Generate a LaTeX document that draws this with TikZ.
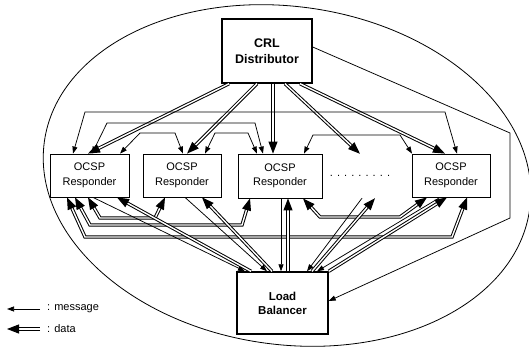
\documentclass[tikz,border=0pt]{standalone}
\usepackage{fontspec}
\setmainfont{Liberation Sans}
\usetikzlibrary{arrows.meta,calc}

\begin{document}
\begin{tikzpicture}[x=1pt,y=-1pt,
  respbox/.style={draw, line width=0.8pt, fill=white, inner sep=0pt, align=center,
    font=\fontsize{11}{14.5}\selectfont},
  mainbox/.style={draw, line width=1.4pt, fill=white, inner sep=0pt, align=center},
  msgtip/.tip={Triangle[length=7pt 0 0,width=5pt 0 0]},
  datatip/.tip={Triangle[length=12pt 0 0,width=9pt 0 0]},
  msg/.style={line width=0.75pt, -msgtip},
  msgboth/.style={line width=0.75pt, msgtip-msgtip},
  data/.style={line width=1pt, double distance=1.4pt, -datatip},
  databoth/.style={line width=1pt, double distance=1.4pt, datatip-datatip},
  legendtext/.style={inner sep=0pt, anchor=base west, font=\fontsize{11}{13}\selectfont}
]
\useasboundingbox (0,0) rectangle (529,347);

% enclosing boundary of the responder cluster
\draw[line width=0.8pt, rotate around={-8:(287,175.5)}]
  (287,175.5) ellipse [x radius=245pt, y radius=169pt];

% boxes
\node[mainbox, minimum width=90pt, minimum height=64pt,
  font=\bfseries\fontsize{12.5}{16.5}\selectfont] (crl) at (267,51) {CRL\\Distributor};
\node[respbox, minimum width=79pt, minimum height=43pt] (r1) at (89.5,175.5) {OCSP\\Responder};
\node[respbox, minimum width=78pt, minimum height=43pt] (r2) at (182,175.5) {OCSP\\Responder};
\node[respbox, minimum width=84pt, minimum height=44pt] (r3) at (280,176) {OCSP\\Responder};
\node[inner sep=0pt, minimum width=56pt, minimum height=44pt,
  font=\fontsize{11}{13}\selectfont] (dots) at (360,176) {. . . . . . . . .};
\node[respbox, minimum width=78pt, minimum height=43pt] (r5) at (451,175.5) {OCSP\\Responder};
\node[mainbox, minimum width=91pt, minimum height=62pt,
  font=\bfseries\fontsize{11.5}{14}\selectfont] (lb) at (282.5,303) {Load\\Balancer};

% data from the CRL distributor
\draw[data] (crl.south -| 229,0) -- (r1.north -| 88,0);
\draw[data] (crl.south -| 257,0) -- (r2.north -| 187,0);
\draw[data] (crl.south -| 273,0) -- (r3.north -| 273,0);
\draw[data] (crl.south -| 285,0) -- (dots.north -| 360,0);
\draw[data] (crl.south -| 300,0) -- (r5.north -| 445,0);

% message from the CRL distributor to the load balancer
\draw[msg] (crl.east |- 0,47) -- (510,133) -- (510,218) -- (lb.east |- 0,301);

% messages between responders (upper side)
\draw[msgboth] (r1.north -| 73,0) -- (85,112) -- (445,112) -- (r5.north -| 457,0);
\draw[msgboth] (r1.north -| 92,0) -- (107,123) -- (255,123) -- (r3.north -| 263,0);
\draw[msgboth] (r1.north -| 120,0) -- (140,133) -- (175,133) -- (r2.north -| 183,0);
\draw[msgboth] (r2.north -| 205,0) -- (215,133) -- (248,133) -- (r3.north -| 257,0);
\draw[msgboth] (r3.north -| 304,0) -- (313,135) -- (400,135) -- (r5.north -| 412,0);

% data between responders (lower side)
\draw[databoth] (r1.south -| 67,0) -- (85,237) -- (452,237) -- (r5.south -| 467,0);
\draw[databoth] (r1.south -| 75,0) -- (90,225) -- (242,225) -- (r3.south -| 250,0);
\draw[databoth] (r1.south -| 88,0) -- (100,218) -- (155,218) -- (r2.south -| 165,0);
\draw[databoth] (r3.south -| 303,0) -- (320,217) -- (400,217) -- (r5.south -| 427,0);

% messages from responders to the load balancer
\draw[msg] (r1.south -| 93,0) -- (lb.north -| 245,0);
\draw[msg] (r2.south -| 185,0) -- (lb.north -| 267,0);
\draw[msg] (r3.south -| 281,0) -- (lb.north -| 281,0);
\draw[msg] (dots.south -| 362,0) -- (lb.north -| 307,0);
\draw[msg] (r5.south -| 440,0) -- (lb.north -| 317,0);

% data from the load balancer to responders
\draw[data] (lb.north -| 251,0) -- (r1.south -| 117,0);
\draw[data] (lb.north -| 272,0) -- (r2.south -| 202,0);
\draw[data] (lb.north -| 288,0) -- (r3.south -| 288,0);
\draw[data] (lb.north -| 312,0) -- (dots.south -| 375,0);
\draw[data] (lb.north east) -- (r5.south -| 447,0);

% legend
\node[legendtext] (lmsg) at (47,310) {: message};
\node[legendtext] (ldata) at (47,332) {: data};
\coordinate (lmsgstart) at (40,309);
\coordinate (lmsgend) at (7,309);
\coordinate (ldatastart) at (40,329);
\coordinate (ldataend) at (7,329);
\draw[msg] (lmsgstart) -- (lmsgend);
\draw[data] (ldatastart) -- (ldataend);
\end{tikzpicture}
\end{document}
